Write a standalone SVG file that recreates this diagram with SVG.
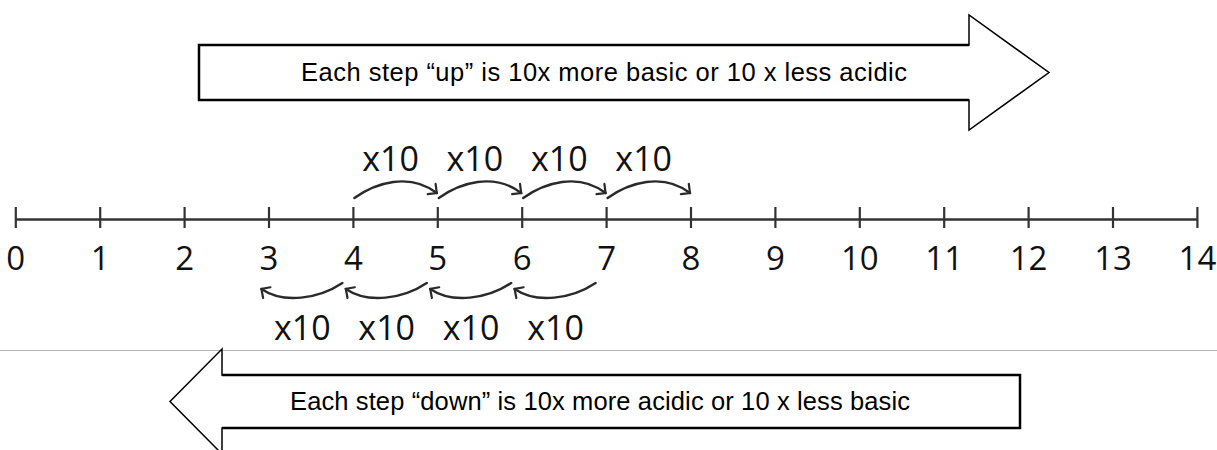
<svg xmlns="http://www.w3.org/2000/svg" width="1217" height="450" viewBox="0 0 1217 450">
<defs>
<style>
.desc{font-family:"Liberation Sans",Arial,sans-serif;font-size:25.5px;fill:#000}
.num{font-family:"Open Sans","Noto Sans",sans-serif;font-size:33px;fill:#111;text-anchor:middle}
.lbl{font-family:"Open Sans","Noto Sans",sans-serif;font-size:34px;fill:#111;text-anchor:middle}
.arc{fill:none;stroke:#2a2a2a;stroke-width:2.4;stroke-linecap:round;marker-end:url(#ah)}
.axis{stroke:#333;stroke-width:2.5;fill:none}
.tick{stroke:#333;stroke-width:2.2}
.box{fill:none;stroke:#000;stroke-width:2.5}
.head{fill:#fff;stroke:#000;stroke-width:1.5;stroke-linejoin:miter}
</style>
<marker id="ah" viewBox="-10 -10 20 20" markerWidth="20" markerHeight="20" refX="0" refY="0" orient="auto" markerUnits="userSpaceOnUse">
<path d="M -6.5 -6.5 L 0 0 L -6.5 6.5" fill="none" stroke="#2a2a2a" stroke-width="2.2" stroke-linecap="round" stroke-linejoin="miter"/>
</marker>
</defs>
<rect width="1217" height="450" fill="#fff"/>
<line x1="0" y1="350.5" x2="1217" y2="350.5" stroke="#b4b4b4" stroke-width="1"/>
<g id="up-arrow">
<polygon class="head" points="199,45 969,45 969,15 1049,72.5 969,130 969,100 199,100"/>
<polyline class="box" points="969,45 199,45 199,100 969,100"/>
<text class="desc" x="301" y="81" textLength="606" lengthAdjust="spacing">Each step “up” is 10x more basic or 10 x less acidic</text>
</g>
<g id="down-arrow">
<polygon class="head" points="1020,375 222,375 222,349 170,401.5 222,454 222,428 1020,428"/>
<polyline class="box" points="222,375 1020,375 1020,428 222,428"/>
<text class="desc" x="290" y="410" textLength="620" lengthAdjust="spacing">Each step “down” is 10x more acidic or 10 x less basic</text>
</g>
<g id="number-line">
<line class="axis" x1="15.8" y1="219.5" x2="1197.4" y2="219.5"/>
<g class="tick">
<line x1="15.8" y1="207" x2="15.8" y2="228"/>
<line x1="100.2" y1="207" x2="100.2" y2="228"/>
<line x1="184.6" y1="207" x2="184.6" y2="228"/>
<line x1="269" y1="207" x2="269" y2="228"/>
<line x1="353.4" y1="207" x2="353.4" y2="228"/>
<line x1="437.8" y1="207" x2="437.8" y2="228"/>
<line x1="522.2" y1="207" x2="522.2" y2="228"/>
<line x1="606.6" y1="207" x2="606.6" y2="228"/>
<line x1="691" y1="207" x2="691" y2="228"/>
<line x1="775.4" y1="207" x2="775.4" y2="228"/>
<line x1="859.8" y1="207" x2="859.8" y2="228"/>
<line x1="944.2" y1="207" x2="944.2" y2="228"/>
<line x1="1028.6" y1="207" x2="1028.6" y2="228"/>
<line x1="1113" y1="207" x2="1113" y2="228"/>
<line x1="1197.4" y1="207" x2="1197.4" y2="228"/>
</g>
<text class="num" x="15.8" y="270">0</text>
<text class="num" x="100.2" y="270">1</text>
<text class="num" x="184.6" y="270">2</text>
<text class="num" x="269" y="270">3</text>
<text class="num" x="353.4" y="270">4</text>
<text class="num" x="437.8" y="270">5</text>
<text class="num" x="522.2" y="270">6</text>
<text class="num" x="606.6" y="270">7</text>
<text class="num" x="691" y="270">8</text>
<text class="num" x="775.4" y="270">9</text>
<text class="num" x="859.8" y="270">10</text>
<text class="num" x="944.2" y="270">11</text>
<text class="num" x="1028.6" y="270">12</text>
<text class="num" x="1113" y="270">13</text>
<text class="num" x="1197.4" y="270">14</text>
</g>
<g id="up-labels">
<text class="lbl" x="390.5" y="171">x10</text>
<text class="lbl" x="474.9" y="171">x10</text>
<text class="lbl" x="559.3" y="171">x10</text>
<text class="lbl" x="643.7" y="171">x10</text>
</g>
<g id="down-labels">
<text class="lbl" x="302.3" y="340">x10</text>
<text class="lbl" x="386.7" y="340">x10</text>
<text class="lbl" x="471.1" y="340">x10</text>
<text class="lbl" x="555.5" y="340">x10</text>
</g>
<g id="connectors">
<path class="arc" d="M 354.4 198 C 375.4 183, 409.4 172, 436.8 193"/>
<path class="arc" d="M 438.8 198 C 459.8 183, 493.8 172, 521.2 193"/>
<path class="arc" d="M 523.2 198 C 544.2 183, 578.2 172, 605.6 193"/>
<path class="arc" d="M 607.6 198 C 628.6 183, 662.6 172, 690 193"/>
<path class="arc" d="M 342.4 283 C 318.4 299, 283.4 304, 261.4 289"/>
<path class="arc" d="M 426.8 283 C 402.8 299, 367.8 304, 345.8 289"/>
<path class="arc" d="M 511.2 283 C 487.2 299, 452.2 304, 430.2 289"/>
<path class="arc" d="M 595.6 283 C 571.6 299, 536.6 304, 514.6 289"/>
</g>
</svg>
